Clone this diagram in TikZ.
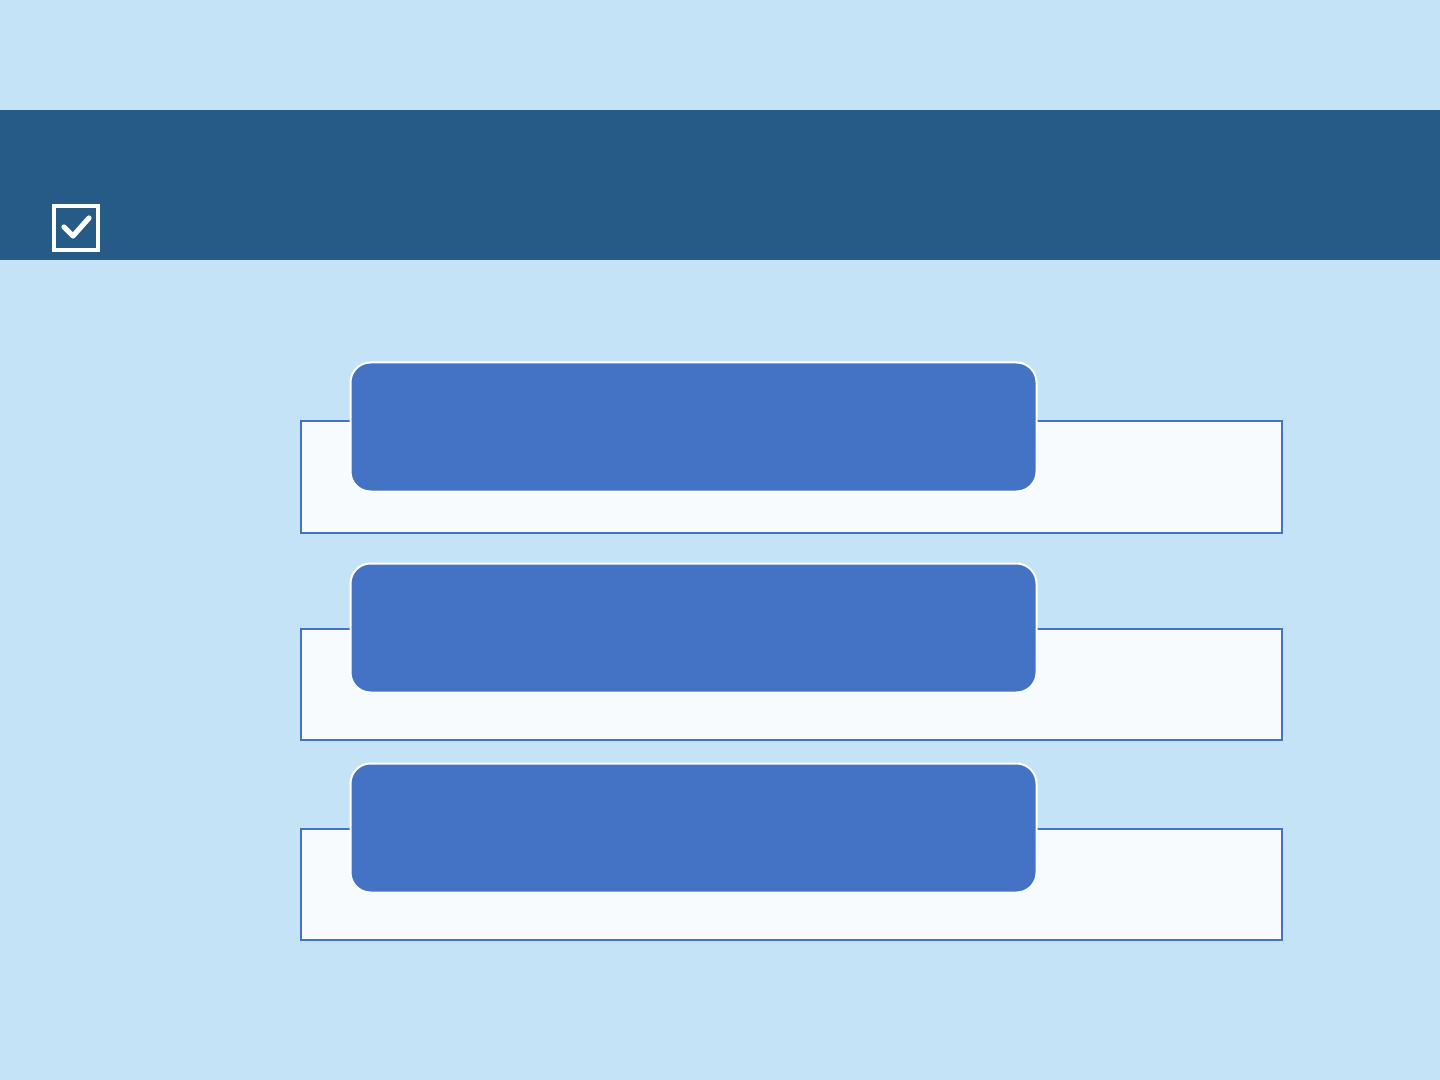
\documentclass[tikz,border=0pt]{standalone}
\begin{document}
\begin{tikzpicture}[x=0.5pt,y=-0.5pt,
  backbox/.style={draw=accentblue,line width=1pt,fill=paleface},
  frontbox/.style={draw=white,line width=1pt,fill=accentblue,rounded corners=10pt}]
\definecolor{bgblue}{HTML}{C5E3F7}
\definecolor{bandblue}{HTML}{275B87}
\definecolor{accentblue}{HTML}{4472C4}
\definecolor{paleface}{HTML}{F8FBFE}
\useasboundingbox (0,0) rectangle (1440,1080);
\fill[bgblue] (0,0) rectangle (1440,1080);
\fill[bandblue] (0,110) rectangle (1440,260.5);
% checkbox icon
\draw[white,line width=2pt] (54,206) rectangle (98,250);
\draw[white,line width=2.6pt,line cap=round,line join=round] (64,227) -- (73,236) -- (89,218);
% rows
\foreach \i/\y in {1/420.5,2/627.5,3/827.5}{
  \node[backbox,minimum width=490.5pt,minimum height=55.5pt,inner sep=0pt,anchor=north west] (back\i) at (300,\y) {};
}
\foreach \i/\y in {1/361.5,2/562.5,3/762.5}{
  \node[frontbox,minimum width=343pt,minimum height=64.5pt,inner sep=0pt,anchor=north west] (front\i) at (349.5,\y) {};
}
\end{tikzpicture}
\end{document}
